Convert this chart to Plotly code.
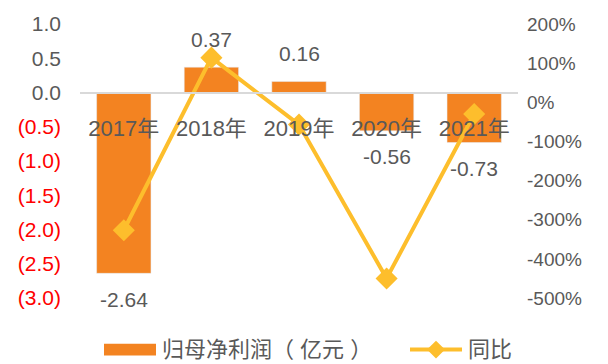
import plotly.graph_objects as go

# 归母净利润 (亿元) and year-on-year change (%)
years = ["2017年", "2018年", "2019年", "2020年", "2021年"]
net_profit = [-2.64, 0.37, 0.16, -0.56, -0.73]
yoy_pct = [-327, 114, -57, -450, -30]

left_ticks = [1.0, 0.5, 0.0, -0.5, -1.0, -1.5, -2.0, -2.5, -3.0]
right_ticks = [200, 100, 0, -100, -200, -300, -400, -500]

BAR = "#F38321"
LINE = "#FDBE2C"
GRAY = "#595959"
FONT = "Liberation Sans, Noto Sans CJK SC, sans-serif"


def fmt_left(v):
    if v < 0:
        return f'<span style="color:#FF0000">({abs(v):.1f})</span>'
    return f"{v:.1f}"


fig = go.Figure()
fig.add_trace(go.Bar(
    x=years, y=net_profit, marker_color=BAR, width=0.62,
    showlegend=False, yaxis="y", hoverinfo="skip",
))
fig.add_trace(go.Scatter(
    x=years, y=yoy_pct, mode="lines+markers", yaxis="y2",
    line=dict(color=LINE, width=4),
    marker=dict(symbol="diamond", size=17, color=LINE),
    showlegend=False, hoverinfo="skip",
))

# value labels beyond each bar's end
for cat, v in zip(years, net_profit):
    fig.add_annotation(
        x=cat, y=v, xref="x", yref="y", text=f"{v:.2f}", showarrow=False,
        yshift=28 if v > 0 else -26,
        font=dict(family=FONT, size=21, color=GRAY),
    )

# legend drawn by hand: wide swatch + line with diamond
def px_x(p):
    return (p - 80) / 438

def px_y(p):
    return (298 - p) / 276

fig.add_shape(type="rect", xref="paper", yref="paper",
              x0=px_x(104), x1=px_x(156), y0=px_y(356), y1=px_y(344),
              fillcolor=BAR, line_width=0)
fig.add_annotation(xref="paper", yref="paper", x=px_x(160), y=px_y(350),
                   xanchor="left", yanchor="middle", showarrow=False,
                   text="归母净利润（ 亿元 ）",
                   font=dict(family=FONT, size=22, color=GRAY))
fig.add_shape(type="line", xref="paper", yref="paper",
              x0=px_x(410), x1=px_x(462), y0=px_y(350), y1=px_y(350),
              line=dict(color=LINE, width=4))
fig.add_shape(type="path", xref="paper", yref="paper",
              path=(f"M {px_x(427)} {px_y(350)} L {px_x(436)} {px_y(341)} "
                    f"L {px_x(445)} {px_y(350)} L {px_x(436)} {px_y(359)} Z"),
              fillcolor=LINE, line_width=0)
fig.add_annotation(xref="paper", yref="paper", x=px_x(466), y=px_y(350),
                   xanchor="left", yanchor="middle", showarrow=False,
                   text="同比",
                   font=dict(family=FONT, size=22, color=GRAY))

fig.update_layout(
    width=608, height=364,
    margin=dict(l=80, r=90, t=22, b=66),
    paper_bgcolor="white", plot_bgcolor="white",
    font=dict(family=FONT, color=GRAY),
    bargap=0.38,
    xaxis=dict(
        type="category", anchor="free", position=0.75,
        showline=True, linecolor="#D9D9D9", linewidth=2,
        showgrid=False, ticks="", ticklabelstandoff=16,
        tickfont=dict(family=FONT, size=22, color=GRAY),
    ),
    yaxis=dict(
        range=[-3, 1], showgrid=False, zeroline=False, showline=False,
        tickvals=left_ticks, ticktext=[fmt_left(v) for v in left_ticks],
        tickfont=dict(family=FONT, size=21, color=GRAY),
        ticklabelstandoff=18,
    ),
    yaxis2=dict(
        range=[-500, 200], overlaying="y", side="right",
        showgrid=False, zeroline=False, showline=False,
        tickvals=right_ticks, ticktext=[f"{v}%" for v in right_ticks],
        tickfont=dict(family=FONT, size=19, color=GRAY),
        ticklabelstandoff=8,
    ),
)

fig.write_html("out.html")
